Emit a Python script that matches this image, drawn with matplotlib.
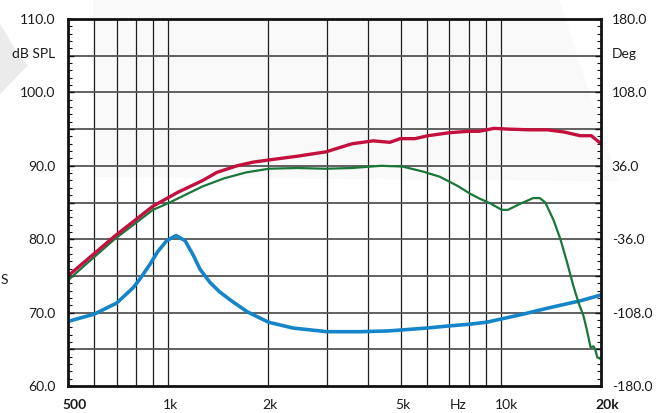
import matplotlib
matplotlib.use("Agg")
import matplotlib.pyplot as plt
from matplotlib.patches import Polygon
from matplotlib.transforms import ScaledTranslation, blended_transform_factory
import numpy as np

plt.rcParams["font.family"] = ["Lato", "DejaVu Sans"]

# Frequency response (dB SPL) read over 500 Hz .. 20 kHz
red_freq = [500, 560, 690, 900, 1070, 1270, 1400, 1610, 1800, 2010, 2440, 2980,
            3570, 4130, 4640, 4980, 5520, 6040, 6980, 7970, 8600, 9540, 10500,
            12200, 13800, 15500, 17300, 18700, 20000]
red_db = [75.0, 76.9, 80.4, 84.5, 86.4, 88.0, 89.1, 90.0, 90.5, 90.8, 91.3, 91.9,
          93.0, 93.4, 93.2, 93.7, 93.7, 94.1, 94.5, 94.7, 94.7, 95.1, 95.0,
          94.9, 94.9, 94.6, 94.1, 94.1, 93.0]

green_freq = [500, 560, 690, 900, 1010, 1270, 1475, 1715, 2010, 2440, 2980, 3570,
              4360, 5060, 5850, 6560, 7030, 7450, 8080, 8660, 9280, 10060, 10500,
              11400, 12500, 13100, 13600, 14400, 15100, 15800, 16500, 17100,
              17700, 18100, 18600, 19000, 19200, 19500, 19900]
green_db = [74.4, 76.4, 80.0, 84.0, 85.0, 87.2, 88.3, 89.1, 89.6, 89.7, 89.6, 89.7,
            90.0, 89.9, 89.2, 88.5, 87.8, 87.2, 86.2, 85.5, 84.9, 84.0, 84.0,
            84.8, 85.6, 85.6, 85.0, 82.6, 80.0, 76.9, 73.7, 71.4,
            69.6, 67.8, 65.3, 65.4, 65.0, 63.9, 63.7]

blue_freq = [500, 600, 700, 785, 823, 882, 930, 990, 1056, 1124, 1190, 1247, 1336,
             1430, 1550, 1730, 2000, 2370, 3000, 3770, 4580, 6000, 7030, 7970,
             9090, 9950, 11700, 13800, 15800, 17300, 20000]
blue_db = [68.8, 69.8, 71.3, 73.4, 74.6, 76.6, 78.3, 79.8, 80.5, 79.8, 77.8, 75.9,
           74.1, 72.8, 71.6, 70.1, 68.7, 67.9, 67.4, 67.4, 67.5, 67.9, 68.2, 68.4,
           68.7, 69.1, 69.8, 70.6, 71.2, 71.6, 72.4]

x_ticks = [500, 1000, 2000, 5000, 10000, 20000]
x_labels = ["500", "1k", "2k", "5k", "10k", "20k"]
grid_freqs = [600, 700, 800, 900, 1000, 2000, 3000, 4000, 5000, 6000, 7000,
              8000, 9000, 10000]
spl_ticks = [60, 70, 80, 90, 100, 110]
deg_labels = ["-180.0", "-108.0", "-36.0", "36.0", "108.0", "180.0"]

fig = plt.figure(figsize=(6.65, 4.14), dpi=100)

# faint background watermark, drawn in its own axes behind the plot
bg = fig.add_axes([0, 0, 1, 1], zorder=-1)
bg.set_xlim(0, 1)
bg.set_ylim(0, 1)
bg.axis("off")
bg.add_patch(Polygon([(0, 0.94), (0.030, 0.86), (0.042, 0.84), (0.030, 0.82),
                      (0, 0.77)], closed=True, facecolor="#ebebeb",
                     edgecolor="none"))
bg.add_patch(Polygon([(0.14, 1.0), (0.84, 1.0), (0.93, 0.56), (0.14, 0.57)],
                     closed=True, facecolor="#f9f9f9", edgecolor="none"))

ax = fig.add_axes([0.1023, 0.0652, 0.8015, 0.8865])
ax.set_facecolor("none")
ax.set_xscale("log")
ax.set_xlim(500, 20000)
ax.set_ylim(60, 110)

for f in grid_freqs:
    ax.axvline(f, color="#1e1e1e", lw=0.9, zorder=1)
for v in np.arange(65, 110, 5):
    ax.axhline(v, color="#555555", lw=1.3, zorder=1)

ax.plot(blue_freq, blue_db, color="#1585c9", lw=2.6, zorder=3,
        solid_joinstyle="round")
ax.plot(green_freq, green_db, color="#19773a", lw=1.6, zorder=4,
        solid_joinstyle="round")
ax.plot(red_freq, red_db, color="#c4103f", lw=2.4, zorder=5,
        solid_joinstyle="round")

for s in ax.spines.values():
    s.set_linewidth(2.0)
    s.set_color("#111111")
    s.set_zorder(6)

ax.set_xticks([])
ax.set_xticks([], minor=True)
ax.set_yticks(np.arange(60, 111, 1), minor=True)
ax.set_yticks(np.arange(60, 111, 5))
ax.set_yticklabels([])
ax.tick_params(axis="y", which="both", direction="in", left=True, right=True,
               color="#111111")
ax.tick_params(axis="y", which="major", length=4, width=1.0)
ax.tick_params(axis="y", which="minor", length=3, width=0.8)

fs = 10
xt = blended_transform_factory(ax.transData, ax.transAxes)
shift = ScaledTranslation(-4 / 72, 0, fig.dpi_scale_trans)
for f, lab in zip(x_ticks, x_labels):
    weight = "bold" if lab in ("500", "20k") else "normal"
    ax.text(f, -0.05, lab, transform=xt + shift, ha="left", va="center",
            fontsize=fs, fontweight=weight, color="#1a1a1a")
ax.text(7300, -0.05, "Hz", transform=xt + shift, ha="left", va="center",
        fontsize=fs, color="#1a1a1a")

yt_left = blended_transform_factory(ax.transAxes, ax.transData)
for v in spl_ticks:
    ax.text(-0.024, v, f"{v:.1f}", transform=yt_left, ha="right", va="center",
            fontsize=fs, color="#1a1a1a")
ax.text(-0.024, 105.3, "dB SPL", transform=yt_left, ha="right", va="center",
        fontsize=fs, color="#1a1a1a")

for v, lab in zip(spl_ticks, deg_labels):
    ax.text(1.02, v, lab, transform=yt_left, ha="left", va="center",
            fontsize=fs, color="#1a1a1a")
ax.text(1.02, 105.3, "Deg", transform=yt_left, ha="left", va="center",
        fontsize=fs, color="#1a1a1a")

fig.text(0.001, 0.324, "S", ha="left", va="center", fontsize=fs, color="#1a1a1a")

fig.savefig("out.png", dpi=100)
